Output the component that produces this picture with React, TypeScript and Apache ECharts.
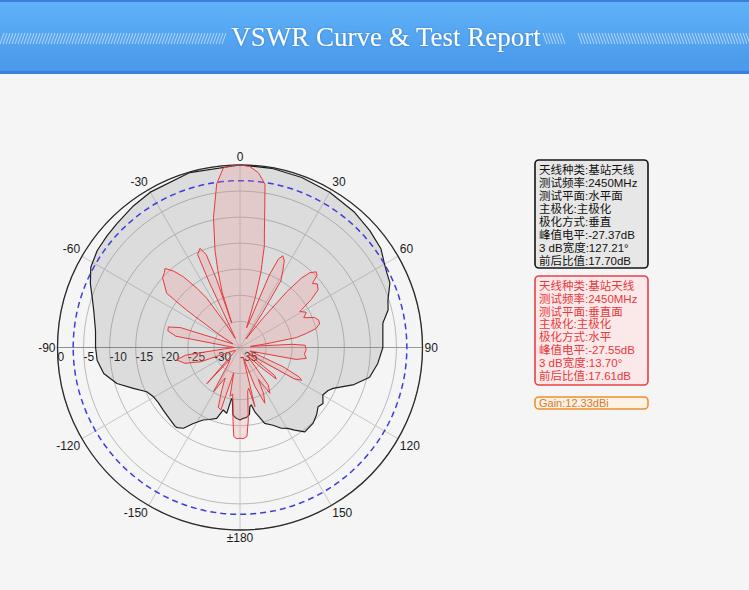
import React, { useEffect, useRef } from 'react';
import * as echarts from 'echarts';

const TITLE = 'VSWR Curve & Test Report';

// Radial (dB) axis and angle axis ticks
const RADIUS_MIN = -35;
const RADIUS_MAX = 0;
const RADIUS_STEP = 5;
const ANGLE_STEP = 30;
const HALF_POWER_DB = -3;

// Horizontal plane pattern (black): angle in degrees, level in dB
const H_ANGLES = [-180, -177, -174, -171.5, -170.5, -168.6, -165, -161.8, -157, -153, -148.4, -145, -142, -140.6, -135, -129.2, -124, -119.6, -115.4, -111, -106.3, -100.8, -95.2, -90, -83.3, -76, -71, -66.9, -61.7, -55.8, -50, -44.8, -37, -30, -16, 0, 10, 20, 30, 40, 48, 55, 60, 63, 66.7, 72.2, 75.8, 80.3, 85, 90, 96.6, 102.9, 108, 113.7, 116, 119.8, 124, 127.2, 131, 136.1, 142.5, 146.5, 149.5, 152.9, 157, 162, 167.1, 168.9, 170.5, 172, 175, 177.6, 180];
const H_DB = [-21.1, -21.4, -22, -25, -25, -22.1, -22.6, -20.7, -20, -19.4, -17.9, -16.1, -15.5, -15.4, -15.8, -16, -16.1, -15.9, -15.2, -13.1, -10.4, -8.4, -7.5, -7.3, -7.1, -6.1, -5, -3.8, -2.5, -1.9, -1.7, -1.5, -1, -0.6, -0.1, 0, -0.1, -0.3, -0.6, -1, -1.5, -2, -3, -3.4, -3.7, -5.2, -5.7, -7.2, -7.5, -7.6, -8.4, -9.5, -12, -15.5, -16.2, -16.7, -15.8, -16.2, -15.5, -14.8, -14.6, -16, -17, -17.6, -18.8, -19.7, -22.4, -23.8, -23.5, -22, -21.5, -21.4, -21.1];

// Vertical plane pattern (red)
const V_ANGLES = [-180, -178, -176, -174.5, -173, -171, -168.5, -166, -163, -160, -157, -154, -149, -145, -140, -137.5, -134, -125, -115, -110, -106, -101, -98, -95, -90, -85, -80, -77, -74, -71.5, -69, -63, -58, -55, -53.5, -51, -48, -45.3, -43.5, -41, -38.7, -36, -34, -31, -27, -25.2, -24.5, -22, -20, -19, -18.6, -18, -16, -14.4, -11.5, -8.1, -5.3, -2, 0, 3, 6, 8.7, 10.3, 12, 13.5, 15.6, 17, 18.5, 20, 22, 23.5, 25, 27, 29, 31.5, 33, 35, 38, 40, 41.5, 43, 45.2, 47, 48.5, 50.5, 53.6, 56, 59, 62, 65, 68, 71, 73.5, 76, 78, 80, 82, 84, 86.5, 88, 92, 96, 99.3, 102, 105, 110, 114, 116.5, 118, 120, 122, 126, 129, 131, 133, 138, 143, 146.8, 150, 153, 156, 159, 162, 165.8, 168, 170, 172, 173.5, 175.5, 178, 180];
const V_DB = [-17.6, -17.5, -17.9, -21, -24, -26, -25.4, -30, -22.5, -22.8, -26, -28.5, -25.1, -31, -32, -25.6, -32, -34, -33.5, -27, -24, -22.6, -24.5, -32, -34, -33, -22.5, -20.8, -20.7, -23, -31, -33.5, -30, -22.5, -17.5, -16.5, -15, -14.6, -14.1, -15.6, -17.6, -21, -23.6, -30, -33, -21, -15.4, -14.5, -16, -21, -30, -24, -19.5, -15.7, -9.5, -3.3, -0.4, 0, 0, -0.2, -1.3, -3.3, -8.5, -12.5, -15, -20.2, -25, -31, -30, -20, -16.5, -15.6, -16.3, -18, -20, -27, -33, -28, -21, -17.3, -15.4, -14.4, -14.8, -16.5, -15.8, -16.4, -18.5, -21.6, -20.6, -21.5, -19.6, -19, -19.1, -20, -22, -24, -30, -33, -25, -22.5, -22.3, -22.6, -22.1, -24, -31, -33, -26, -22.3, -21.6, -23, -30, -33, -26.5, -25.8, -29, -33, -26, -24.5, -28, -25, -23.3, -27, -33, -23.3, -27, -26.5, -24, -21, -17.9, -17.5, -17.6];

const INFO_H = ['天线种类:基站天线', '测试频率:2450MHz', '测试平面:水平面', '主极化:主极化', '极化方式:垂直', '峰值电平:-27.37dB', '3 dB宽度:127.21°', '前后比值:17.70dB'];
const INFO_V = ['天线种类:基站天线', '测试频率:2450MHz', '测试平面:垂直面', '主极化:主极化', '极化方式:水平', '峰值电平:-27.55dB', '3 dB宽度:13.70°', '前后比值:17.61dB'];
const GAIN_TEXT = 'Gain:12.33dBi';

// Angle axis runs from -90 (left) clockwise to 270
function toPolar(angles: number[], db: number[]) {
  const pts = angles.map((a, i) => [db[i], a < -90 ? a + 360 : a]);
  pts.sort((p, q) => p[1] - q[1]);
  pts.push([pts[0][0], pts[0][1] + 360]);
  return pts;
}

const INFO_FONT = '"Liberation Sans", "Noto Sans CJK SC", sans-serif';

function buildOption() {
  const hData = toPolar(H_ANGLES, H_DB);
  const vData = toPolar(V_ANGLES, V_DB);
  const ringData: number[][] = [];
  for (let a = -90; a <= 270; a += 3) ringData.push([HALF_POWER_DB, a]);

  const graphic: any[] = [];
  // banner
  graphic.push({ type: 'rect', shape: { x: 0, y: 0, width: 749, height: 74 }, style: { fill: '#3b80df' }, silent: true });
  graphic.push({
    type: 'rect', shape: { x: 0, y: 2, width: 749, height: 69 },
    style: {
      fill: new echarts.graphic.LinearGradient(0, 0, 0, 1, [
        { offset: 0, color: '#5fb2f8' },
        { offset: 1, color: '#4a98ea' },
      ]),
    },
    silent: true,
  });
  const hatch = (x0: number, x1: number, dir: number) => {
    for (let x = x0; x < x1; x += 3) {
      graphic.push({
        type: 'line',
        shape: dir > 0 ? { x1: x, y1: 44, x2: x + 4, y2: 33 } : { x1: x, y1: 33, x2: x + 4, y2: 44 },
        style: { stroke: 'rgba(255,255,255,0.55)', lineWidth: 1 },
        silent: true,
      });
    }
  };
  hatch(0, 224, 1);
  hatch(543, 562, -1);
  hatch(578, 749, -1);
  graphic.push({
    type: 'text', x: 386, y: 37,
    style: { text: TITLE, fill: '#ffffff', font: 'normal 27px "Liberation Serif", "Times New Roman", serif', align: 'center', verticalAlign: 'middle', textAlign: 'center', textVerticalAlign: 'middle', textShadowColor: 'rgba(0,40,120,0.35)', textShadowBlur: 2 },
  });

  const box = (y: number, h: number, stroke: string, fill: string, lines: string[], color: string, first: number, step: number, fs: number) => {
    graphic.push({ type: 'rect', shape: { x: 535, y, width: 113, height: h, r: 4 }, style: { fill, stroke, lineWidth: 1.6 } });
    lines.forEach((t, i) => {
      graphic.push({
        type: 'text', x: 539, y: y + first + i * step,
        style: { text: t, fill: color, font: `normal ${fs}px ${INFO_FONT}`, align: 'left', verticalAlign: 'middle', textAlign: 'left', textVerticalAlign: 'middle' },
      });
    });
  };
  box(160, 108, '#151515', '#e7e7e7', INFO_H, '#111111', 9.5, 13.1, 11.5);
  box(276, 109, '#e8414a', '#fbe9e9', INFO_V, '#e8383d', 10, 12.8, 11.5);
  box(397, 12, '#f0902a', '#fdf2e6', [GAIN_TEXT], '#d9792a', 6, 0, 11);

  const splitColors = ['#9a9a9a', '#c6c6c6', '#c6c6c6', '#c6c6c6', '#c6c6c6', '#c6c6c6', '#9a9a9a', '#c6c6c6', '#c6c6c6', '#c6c6c6', '#c6c6c6', '#c6c6c6'];

  return {
    animation: false,
    backgroundColor: '#f5f5f5',
    polar: { center: [240, 347.5], radius: 182.5 },
    angleAxis: {
      type: 'value', min: -90, max: 270, interval: ANGLE_STEP, startAngle: 180, clockwise: true,
      axisLine: { show: true, lineStyle: { color: '#2a2a2a', width: 1.3 } },
      axisTick: { show: false },
      axisLabel: {
        margin: 2, color: '#1a1a1a', fontSize: 12, fontFamily: '"Liberation Sans", Arial, sans-serif',
        formatter: (v: number) => (v === 180 ? '±180' : v > 180 ? String(v - 360) : String(v)),
      },
      splitLine: { show: true, lineStyle: { color: splitColors, width: 1 } },
    },
    radiusAxis: {
      type: 'value', min: RADIUS_MIN, max: RADIUS_MAX, interval: RADIUS_STEP,
      axisLine: { show: true, lineStyle: { color: '#8e8e8e', width: 1 } },
      axisTick: { show: false },
      axisLabel: { margin: 3, align: 'left', color: '#1a1a1a', fontSize: 12, fontFamily: '"Liberation Sans", Arial, sans-serif' },
      splitLine: { show: true, lineStyle: { color: '#b9b9b9', width: 1 } },
    },
    series: [
      {
        type: 'line', coordinateSystem: 'polar', data: hData, symbol: 'none', z: 2,
        lineStyle: { color: '#1e1e1e', width: 1.2 },
        areaStyle: { origin: 'start', color: 'rgba(110,110,110,0.26)' },
      },
      {
        type: 'line', coordinateSystem: 'polar', data: ringData, symbol: 'none', z: 3,
        lineStyle: { color: '#3c3ce0', width: 1.5, type: [6, 4] },
      },
      {
        type: 'line', coordinateSystem: 'polar', data: vData, symbol: 'none', z: 4,
        lineStyle: { color: '#e63a3a', width: 1 },
        areaStyle: { origin: 'start', color: 'rgba(245,150,150,0.35)' },
      },
    ],
    graphic,
  };
}

export default function App() {
  const ref = useRef<HTMLDivElement>(null);
  useEffect(() => {
    if (!ref.current) return;
    const chart = echarts.init(ref.current, null, { renderer: 'svg' });
    chart.setOption(buildOption() as any);
    return () => chart.dispose();
  }, []);
  return <div ref={ref} style={{ position: 'absolute', left: 0, top: 0, width: 749, height: 590 }} />;
}
